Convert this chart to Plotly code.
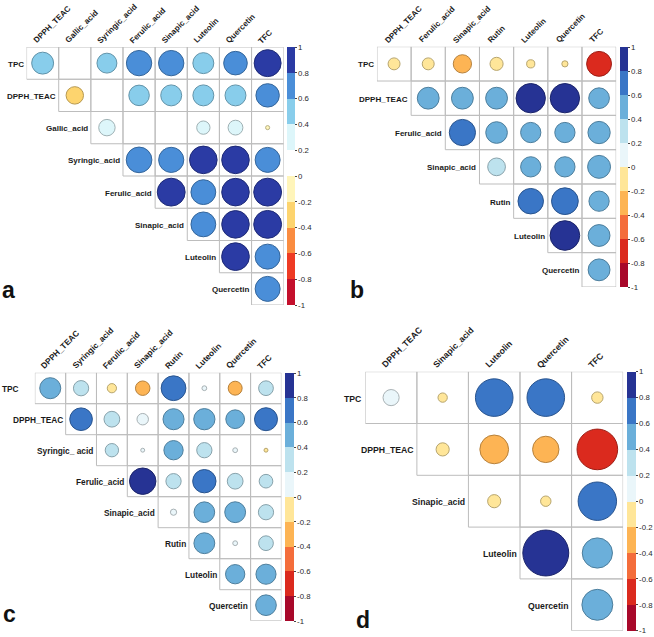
import math
import plotly.graph_objects as go

W, H = 654, 637

# ---------------- data ----------------
A_ROWS = ["TPC", "DPPH_TEAC", "Gallic_acid", "Syringic_acid", "Ferulic_acid",
          "Sinapic_acid", "Luteolin", "Quercetin"]
A_COLS = ["DPPH_TEAC", "Gallic_acid", "Syringic_acid", "Ferulic_acid", "Sinapic_acid",
          "Luteolin", "Quercetin", "TFC"]
A_VALUES = [
    [0.57, None, 0.47, 0.76, 0.76, 0.52, 0.66, 0.86],
    [-0.36, None, 0.50, 0.52, 0.52, 0.52, 0.65],
    [0.32, None, None, 0.21, 0.26, -0.02],
    [0.78, 0.75, 0.90, 0.90, 0.74],
    [0.92, 0.73, 0.90, 0.92],
    [0.73, 0.90, 0.92],
    [0.91, 0.74],
    [0.74],
]

B_ROWS = ["TPC", "DPPH_TEAC", "Ferulic_acid", "Sinapic_acid", "Rutin", "Luteolin", "Quercetin"]
B_COLS = ["DPPH_TEAC", "Ferulic_acid", "Sinapic_acid", "Rutin", "Luteolin", "Quercetin", "TFC"]
B_VALUES = [
    [-0.15, -0.15, -0.35, -0.18, -0.07, -0.04, -0.65],
    [0.50, 0.50, 0.50, 0.90, 0.90, 0.45],
    [0.72, 0.49, 0.43, 0.43, 0.52],
    [0.33, 0.43, 0.43, 0.55],
    [0.68, 0.75, 0.43],
    [0.92, 0.50],
    [0.50],
]

C_ROWS = ["TPC", "DPPH_TEAC", "Syringic_ acid", "Ferulic_acid", "Sinapic_acid", "Rutin",
          "Luteolin", "Quercetin"]
C_COLS = ["DPPH_TEAC", "Syringic_acid", "Ferulic_acid", "Sinapic_acid", "Rutin", "Luteolin",
          "Quercetin", "TFC"]
C_VALUES = [
    [0.57, 0.30, -0.11, -0.27, 0.79, 0.03, -0.25, 0.28],
    [0.66, 0.32, 0.17, 0.57, 0.58, 0.45, 0.68],
    [0.23, 0.02, 0.48, 0.30, 0.03, -0.02],
    [0.90, 0.30, 0.70, 0.32, 0.24],
    [0.05, 0.55, 0.56, 0.30],
    [0.56, 0.03, 0.28],
    [0.48, 0.52],
    [0.55],
]

D_ROWS = ["TPC", "DPPH_TEAC", "Sinapic_acid", "Luteolin", "Quercetin"]
D_COLS = ["DPPH_TEAC", "Sinapic_acid", "Luteolin", "Quercetin", "TFC"]
D_VALUES = [
    [0.12, -0.04, 0.65, 0.65, -0.06],
    [-0.08, -0.38, -0.32, -0.76],
    [-0.08, -0.05, 0.68],
    [0.97, 0.42],
    [0.44],
]

CB_TICKS = [-1, -0.8, -0.6, -0.4, -0.2, 0, 0.2, 0.4, 0.6, 0.8, 1]
CB_TICKTEXT = ["-1", "-0.8", "-0.6", "-0.4", "-0.2", "0", "0.2", "0.4", "0.6", "0.8", "1"]

# palettes from -1 to 1 (10 bins)
PAL_A = ["#C4102C", "#EE3B24", "#FA8C40", "#FDD46E", "#FFF5BA",
         "#FFFFFF", "#DDF6FA", "#88CDEB", "#4A8ED8", "#2B3BA4"]
PAL_BCD = ["#A8082A", "#DB2A1E", "#F46D3B", "#FDB454", "#FFE699",
           "#EAF6FA", "#BDE2EE", "#6BAFDA", "#3A76C6", "#263394"]

FONT = "Liberation Sans, Arial, sans-serif"

# layout (pixel boxes: grid x0, y0, x1, y1; colorbar x0, x1, y0, y1; letter)
PANELS = [
    dict(rows=A_ROWS, cols=A_COLS, vals=A_VALUES, pal=PAL_A, fs=8.0, row_extra={},
         grid=(26.7, 47.0, 285.0, 305.0), cb=(288.3, 296.7, 47.3, 305.0),
         letter="a", lpos=(0.0, 305.0)),
    dict(rows=B_ROWS, cols=B_COLS, vals=B_VALUES, pal=PAL_BCD, fs=8.0, row_extra={},
         grid=(378.7, 46.7, 619.0, 287.0), cb=(622.7, 631.0, 47.3, 287.3),
         letter="b", lpos=(350.0, 305.0)),
    dict(rows=C_ROWS, cols=C_COLS, vals=C_VALUES, pal=PAL_BCD, fs=8.3, row_extra={0: -13},
         grid=(35.0, 372.7, 282.7, 620.7), cb=(286.7, 295.7, 372.7, 621.0),
         letter="c", lpos=(1.0, 629.0)),
    dict(rows=D_ROWS, cols=D_COLS, vals=D_VALUES, pal=PAL_BCD, fs=8.7, row_extra={},
         grid=(367.0, 371.7, 626.0, 630.7), cb=(630.0, 639.0, 371.7, 630.7),
         letter="d", lpos=(356.0, 635.0)),
]


def darken(hexc, f):
    hexc = hexc.lstrip("#")
    r, g, b = int(hexc[0:2], 16), int(hexc[2:4], 16), int(hexc[4:6], 16)
    return "rgb(%d,%d,%d)" % (int(r * f), int(g * f), int(b * f))


def bin_index(v):
    i = int(math.floor((v + 1) / 0.2))
    return max(0, min(9, i))


def make_scale(pal):
    cs = []
    for i, c in enumerate(pal):
        cs.append([i / 10, c])
        cs.append([(i + 1) / 10, c])
    return cs


fig = go.Figure()
annotations = []

for k, p in enumerate(PANELS, start=1):
    xs = "" if k == 1 else str(k)
    xref, yref = "x" + xs, "y" + xs
    gx0, gy0, gx1, gy1 = p["grid"]
    ncol = len(p["cols"])
    nrow = len(p["rows"])
    cell_px = (gx1 - gx0) / ncol

    lx, ly = [], []
    mx, my, mv, msz, mline = [], [], [], [], []
    for i, rowvals in enumerate(p["vals"]):
        for m, v in enumerate(rowvals):
            j = i + m
            cx, cy = j + 1, i + 1
            x0, x1, y0, y1 = cx - 0.5, cx + 0.5, cy - 0.5, cy + 0.5
            lx += [x0, x1, x1, x0, x0, None]
            ly += [y0, y0, y1, y1, y0, None]
            if v is not None:
                mx.append(cx)
                my.append(cy)
                mv.append(v)
                msz.append(0.9 * math.sqrt(abs(v)) * cell_px)
                mline.append(darken(p["pal"][bin_index(v)], 0.72))

    fig.add_trace(go.Scatter(x=lx, y=ly, mode="lines", xaxis=xref, yaxis=yref,
                             line=dict(color="#BDBDBD", width=1),
                             hoverinfo="skip", showlegend=False))

    cbx0, cbx1, cby0, cby1 = p["cb"]
    fig.add_trace(go.Scatter(
        x=mx, y=my, mode="markers", xaxis=xref, yaxis=yref, showlegend=False,
        marker=dict(size=msz, color=mv, colorscale=make_scale(p["pal"]), cmin=-1, cmax=1,
                    opacity=1, line=dict(color=mline, width=1),
                    showscale=True,
                    colorbar=dict(x=cbx0 / W, xanchor="left", y=1 - cby1 / H, yanchor="bottom",
                                  len=cby1 - cby0, lenmode="pixels",
                                  thickness=cbx1 - cbx0, thicknessmode="pixels",
                                  xpad=0, ypad=0, outlinewidth=0, borderwidth=0,
                                  tickvals=CB_TICKS, ticktext=CB_TICKTEXT,
                                  ticks="outside", ticklen=2, tickcolor="#444",
                                  tickfont=dict(family=FONT, size=7.8, color="#2a2a2a"))),
    ))

    fig.update_layout(**{
        "xaxis" + xs: dict(domain=[gx0 / W, gx1 / W], range=[0.5, ncol + 0.5],
                           anchor=yref, visible=False, fixedrange=True),
        "yaxis" + xs: dict(domain=[1 - gy1 / H, 1 - gy0 / H], range=[nrow + 0.5, 0.5],
                           anchor=xref, visible=False, fixedrange=True),
    })

    # row labels (staircase)
    for i, r in enumerate(p["rows"]):
        annotations.append(dict(x=i + 0.5, y=i + 1, xref=xref, yref=yref, text="<b>%s</b>" % r,
                                xanchor="right", yanchor="middle", showarrow=False,
                                xshift=-3 + p["row_extra"].get(i, 0), yshift=-1,
                                borderpad=0, borderwidth=0,
                                font=dict(family=FONT, size=p["fs"], color="#1a1a1a")))
    # column labels, rotated 45 degrees
    for j, c in enumerate(p["cols"]):
        annotations.append(dict(x=j + 1, y=0.5, xref=xref, yref=yref, text="<b>%s</b>" % c,
                                textangle=-45, xanchor="left", yanchor="bottom",
                                showarrow=False, xshift=-11, yshift=2,
                                borderpad=0, borderwidth=0,
                                font=dict(family=FONT, size=p["fs"], color="#1a1a1a")))

    lx0, ly1 = p["lpos"]
    annotations.append(dict(x=lx0 / W, y=1 - ly1 / H, xref="paper", yref="paper",
                            text="<b>%s</b>" % p["letter"], xanchor="left", yanchor="bottom",
                            showarrow=False, font=dict(family=FONT, size=23, color="#111")))

fig.update_layout(width=W, height=H, autosize=False, margin=dict(l=0, r=0, t=0, b=0),
                  paper_bgcolor="white", plot_bgcolor="white",
                  annotations=annotations, font=dict(family=FONT))

fig.write_html("out.html", config={"displayModeBar": False},
               post_script="document.body.style.margin='0';document.body.style.padding='0';")
